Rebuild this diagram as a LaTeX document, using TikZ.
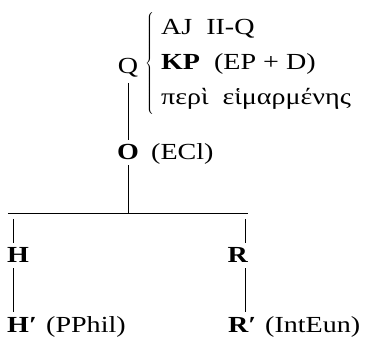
\documentclass[tikz,border=0pt]{standalone}
\usepackage{fontspec}
\setmainfont{Liberation Serif}[FakeStretch=1.22]
\usetikzlibrary{positioning}
\newcommand\stemmafont{\fontsize{23}{27}\selectfont}
\tikzset{
  lett/.style={inner sep=5pt},
  tag/.style={inner sep=2pt},
  link/.style={line width=0.8pt, draw=black},
}
\begin{document}
\begin{tikzpicture}[x=1pt, y=-1pt, font=\stemmafont]
  \useasboundingbox (0,0) rectangle (368,339);
  % top: Q and its three witnesses
  \node[lett, anchor=base] (Q) at (128,74) {Q};
  \node[anchor=west, inner sep=0pt] (works) at (145,64)
    {$\left\{\rule[-45pt]{0pt}{90pt}\hspace{7pt}\begin{tabular}{@{}l@{}}AJ\ \ II-Q\\[8pt]
      \textbf{KP}\ \ (EP + D)\\[8pt]
      περὶ\ \ εἱμαρμένης\end{tabular}\right.$};
  \node[lett, anchor=base] (O) at (128,160) {\textbf{O}};
  \node[tag, anchor=base west] (ecl) at (149,160) {(ECl)};
  % fork
  \coordinate (fork) at (128,213);
  \coordinate (forkL) at (8,213);
  \coordinate (forkR) at (248,213);
  \coordinate (tickL) at (13,219);
  \coordinate (tickR) at (245,219);
  \node[lett, anchor=base] (H) at (18,263) {\textbf{H}};
  \node[lett, anchor=base] (R) at (238,263) {\textbf{R}};
  \node[lett, anchor=base west, inner sep=0pt] (Hp) at (7,333) {\textbf{H′}};
  \node[tag, anchor=base west] (pphil) at (44,333) {(PPhil)};
  \node[lett, anchor=base west, inner sep=0pt] (Rp) at (228,333) {\textbf{R′}};
  \node[tag, anchor=base west] (inteun) at (263,333) {(IntEun)};
  % connectors
  \draw[link] (Q.south) -- (O.north);
  \draw[link] (O.south) -- (fork);
  \draw[link] (forkL) -- (forkR);
  \draw[link] (tickL) -- (tickL |- H.north);
  \draw[link] (tickR) -- (tickR |- R.north);
  \draw[link] (tickL |- H.south) -- ([yshift=6pt]tickL |- Hp.north);
  \draw[link] (tickR |- R.south) -- ([yshift=6pt]tickR |- Rp.north);
\end{tikzpicture}
\end{document}
